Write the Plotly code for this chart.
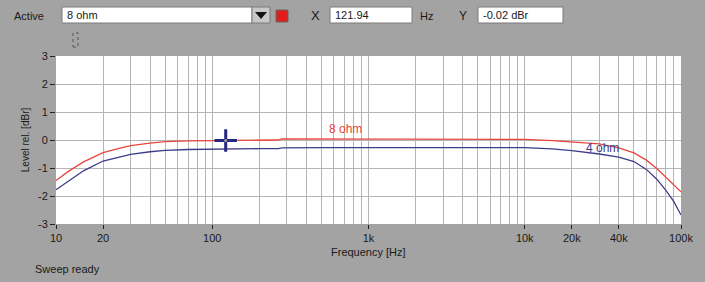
import plotly.graph_objects as go

# ---- data ----
freq_hz = [10, 12, 15, 20, 25, 30, 40, 50, 70, 95, 105, 150, 200, 265, 280, 500, 700, 1000,
           2000, 3000, 5000, 7000, 10000, 15000, 20000, 30000, 40000, 50000, 60000,
           70000, 80000, 90000, 100000]
level_8ohm = [-1.45, -1.12, -0.78, -0.45, -0.31, -0.2, -0.11, -0.06, -0.03, -0.02, -0.02, -0.02,
              -0.01, 0.0, 0.04, 0.04, 0.04, 0.04, 0.04, 0.04, 0.04, 0.04, 0.02, -0.02,
              -0.06, -0.14, -0.28, -0.46, -0.72, -1.02, -1.33, -1.6, -1.85]
level_4ohm = [-1.78, -1.46, -1.1, -0.75, -0.61, -0.51, -0.42, -0.37, -0.34, -0.33, -0.31, -0.31,
              -0.31, -0.31, -0.28, -0.27, -0.27, -0.27, -0.27, -0.27, -0.27, -0.27, -0.27,
              -0.32, -0.38, -0.5, -0.61, -0.77, -1.05, -1.4, -1.8, -2.2, -2.68]
cursor_x = [121.94]
cursor_y = [-0.02]

major_ticks = [10, 20, 100, 1000, 10000, 20000, 40000, 100000]
major_labels = ["10", "20", "100", "1k", "10k", "20k", "40k", "100k"]
minor_ticks = [m * d for d in (10, 100, 1000, 10000) for m in range(2, 10)
               if m * d not in major_ticks]
y_ticks = [-3, -2, -1, 0, 1, 2, 3]
y_labels = ["-3", "-2", "-1", "0", "1", "2", "3"]

W, H = 705, 282
L, R, T, B = 56, 681, 56, 224
BG = "#a3a3a3"
FONT = "Liberation Sans, Arial, sans-serif"

def px(x):
    return (x - L) / (R - L)

def py(y):
    return (B - y) / (B - T)

fig = go.Figure()
fig.add_trace(go.Scatter(x=freq_hz, y=level_8ohm, mode="lines",
                         line=dict(color="#e8463c", width=1.3), name="8 ohm"))
fig.add_trace(go.Scatter(x=freq_hz, y=level_4ohm, mode="lines",
                         line=dict(color="#3c3c88", width=1.3), name="4 ohm"))
fig.add_trace(go.Scatter(x=cursor_x, y=cursor_y, mode="markers",
                         marker=dict(symbol="cross-thin", size=16,
                                     line=dict(color="#262680", width=3)),
                         name="cursor"))
fig.add_trace(go.Scatter(x=cursor_x, y=cursor_y, mode="markers",
                         marker=dict(symbol="circle", size=3, color="#a0a0a0"),
                         name="cursorc"))

shapes = []
annotations = []

def box(x0, y0, x1, y1, fill="white", line="#7a7a7a"):
    shapes.append(dict(type="rect", xref="paper", yref="paper",
                       x0=px(x0), x1=px(x1), y0=py(y1), y1=py(y0),
                       fillcolor=fill, line=dict(color=line, width=1), layer="above"))

def text(x, y, s, size=11, color="#1a1a1a", anchor="left"):
    annotations.append(dict(xref="paper", yref="paper", x=px(x), y=py(y), text=s,
                            showarrow=False, xanchor=anchor, yanchor="middle",
                            font=dict(family=FONT, size=size, color=color)))

# header controls
text(12, 16, "Active")
box(62, 7, 252, 23)
text(65, 15, "8 ohm")
box(252, 7, 270, 23, fill="#c8c8c8")
shapes.append(dict(type="path", xref="paper", yref="paper",
                   path=f"M {px(255)} {py(12)} L {px(267)} {py(12)} L {px(261)} {py(19)} Z",
                   fillcolor="#111111", line=dict(width=0), layer="above"))
box(276, 10, 288, 22, fill="#e01e1e", line="#666666")
text(315, 16, "X", size=13, anchor="center")
box(330, 7, 412, 23)
text(333, 15, "121.94")
text(418, 16, "Hz")
text(463, 16, "Y", size=12, anchor="center")
box(478, 7, 563, 23)
text(481, 15, "-0.02 dBr")
shapes.append(dict(type="rect", xref="paper", yref="paper",
                   x0=px(73), x1=px(78), y0=py(47), y1=py(33),
                   fillcolor="rgba(0,0,0,0)", line=dict(color="#555555", width=1, dash="dot"),
                   layer="above"))

# curve labels
annotations.append(dict(x=2.85, y=0.38, xref="x", yref="y", text="8 ohm",
                        showarrow=False, font=dict(family=FONT, size=12, color="#e8463c")))
annotations.append(dict(x=4.5, y=-0.3, xref="x", yref="y", text="4 ohm",
                        showarrow=False, font=dict(family=FONT, size=12, color="#3c3c88")))

text(L + (R - L) / 2, 252, "Frequency [Hz]", anchor="center")
text(33, 269, "Sweep ready")

fig.update_layout(
    width=W, height=H,
    margin=dict(l=L, r=W - R, t=T, b=H - B),
    paper_bgcolor=BG, plot_bgcolor="white",
    showlegend=False,
    font=dict(family=FONT, size=11, color="#1a1a1a"),
    shapes=shapes, annotations=annotations,
)
fig.update_xaxes(type="log", range=[1, 5], tickvals=major_ticks, ticktext=major_labels,
                 ticks="outside", ticklen=4, tickcolor="#222222", showgrid=True,
                 gridcolor="#b5b5b5", gridwidth=1, zeroline=False, showline=False,
                 tickfont=dict(size=11),
                 minor=dict(tickvals=minor_ticks, showgrid=True, gridcolor="#b5b5b5",
                            gridwidth=1, ticks=""))
fig.update_yaxes(range=[-3, 3], tickvals=y_ticks, ticktext=y_labels, ticks="outside",
                 ticklen=5, tickcolor="#222222", showgrid=True, gridcolor="#b5b5b5",
                 gridwidth=1, zeroline=False, showline=False, tickfont=dict(size=11),
                 title=dict(text="Level rel. [dBr]", font=dict(size=10), standoff=6))

fig.write_html("out.html")
